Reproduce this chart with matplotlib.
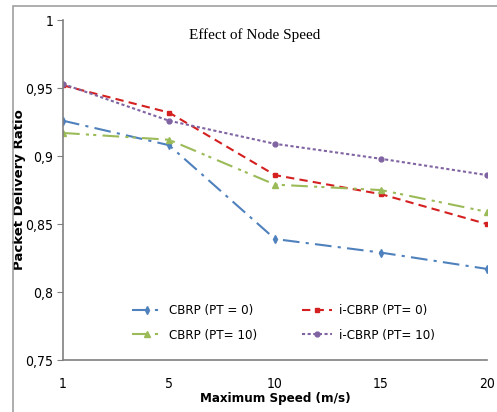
import matplotlib.pyplot as plt
import matplotlib.patches as patches
from matplotlib.font_manager import FontProperties
import numpy as np

# Data
speeds = ['1', '5', '10', '15', '20']
cbrp_pt0 = [0.926, 0.908, 0.839, 0.829, 0.817]
icbrp_pt0 = [0.952, 0.932, 0.886, 0.872, 0.850]
cbrp_pt10 = [0.917, 0.912, 0.879, 0.875, 0.859]
icbrp_pt10 = [0.953, 0.926, 0.909, 0.898, 0.886]
y_ticks = [0.75, 0.8, 0.85, 0.9, 0.95, 1.0]
y_tick_labels = ['0,75', '0,8', '0,85', '0,9', '0,95', '1']

tick_font = FontProperties(family='DejaVu Sans', stretch='condensed', size=10)
legend_font = FontProperties(family='DejaVu Sans', stretch='condensed', size=9.5)
xlab_font = FontProperties(family='DejaVu Sans', stretch='condensed', weight='bold', size=9.5)

fig = plt.figure(figsize=(4.97, 4.12), dpi=100)
# outer chart border
fig.patches.append(patches.Rectangle((13 / 497, -0.1), 1.2, 1 - 6 / 412 + 0.1,
                                     transform=fig.transFigure, fill=False,
                                     edgecolor='#a0a0a0', linewidth=1.2))
ax = fig.add_axes([0.1268, 0.1262, 0.853, 0.825])

x = np.arange(len(speeds))
l1, = ax.plot(x, cbrp_pt0, color='#4F81BD', linestyle=(0, (8, 3, 1.5, 3)), marker='d',
              markersize=4, linewidth=1.5, label='CBRP (PT = 0)')
l2, = ax.plot(x, icbrp_pt0, color='#D42020', linestyle=(0, (4, 2.5)), marker='s',
              markersize=3.5, linewidth=1.5, label='i-CBRP (PT= 0)')
l3, = ax.plot(x, cbrp_pt10, color='#9BBB59', linestyle=(0, (8, 3, 1.5, 2, 1.5, 3)), marker='^',
              markersize=5, linewidth=1.5, label='CBRP (PT= 10)')
l4, = ax.plot(x, icbrp_pt10, color='#8064A2', linestyle=(0, (1.5, 1.2)), marker='o',
              markersize=3.5, linewidth=1.5, label='i-CBRP (PT= 10)')

ax.set_xlim(0, len(speeds) - 1)
ax.set_ylim(0.75, 1.0)
ax.set_xticks(x)
ax.set_xticklabels(speeds, fontproperties=tick_font)
ax.set_yticks(y_ticks)
ax.set_yticklabels(y_tick_labels, fontproperties=tick_font)
ax.tick_params(axis='y', direction='out', length=4, color='#808080', pad=3)
ax.tick_params(axis='x', direction='out', length=0, pad=12)

for s in ['top', 'right']:
    ax.spines[s].set_visible(False)
for s in ['left', 'bottom']:
    ax.spines[s].set_color('#808080')
    ax.spines[s].set_linewidth(1.2)

ax.text(0.453, 0.955, 'Effect of Node Speed', transform=ax.transAxes,
        ha='center', va='center', family='Liberation Serif', fontsize=11,
        fontstretch='condensed')
ax.set_xlabel('Maximum Speed (m/s)', fontproperties=xlab_font, labelpad=1)
ax.set_ylabel('Packet Delivery Ratio', family='DejaVu Sans', fontweight='bold',
              fontsize=9.5)
ax.yaxis.set_label_coords(-0.088, 0.5)

ax.legend([l1, l3, l2, l4], [l.get_label() for l in (l1, l3, l2, l4)],
          loc='center left', bbox_to_anchor=(0.163, 0.109), ncol=2, frameon=False,
          prop=legend_font, columnspacing=3.4, handlelength=2.3,
          labelspacing=0.85, handletextpad=0.5, borderpad=0, borderaxespad=0)

fig.savefig('out.png', dpi=100)
